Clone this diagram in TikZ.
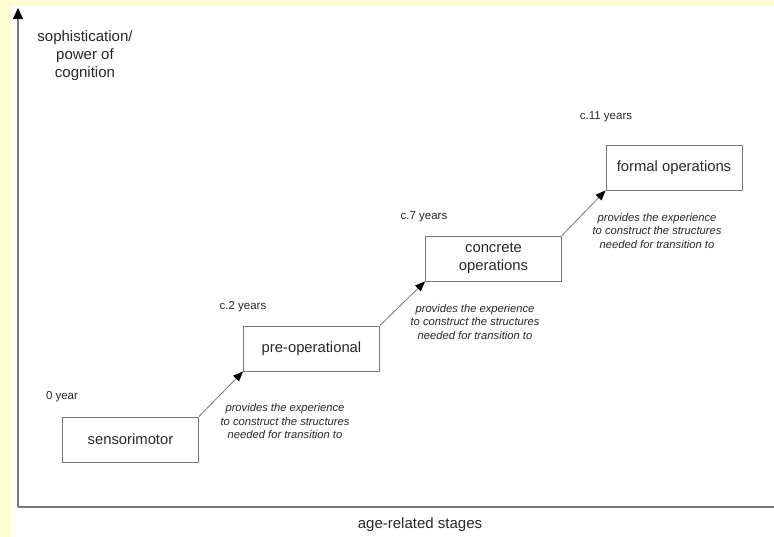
\documentclass[tikz,border=0pt]{standalone}
\usepackage{fontspec}
\setmainfont{Liberation Sans}
\usepackage{xcolor}
\usetikzlibrary{arrows.meta}
\definecolor{paleyellow}{RGB}{255,253,210}
\definecolor{linegray}{RGB}{120,120,120}
\definecolor{textgray}{RGB}{40,40,40}

\begin{document}
\begin{tikzpicture}[x=1pt,y=-1pt]
    % Styles for boxes, labels and lines
    \tikzset{
      box/.style={rectangle, draw=linegray, line width=0.9pt, align=center, text=textgray, minimum width=136pt, minimum height=45pt, inner sep=2pt, font=\fontsize{14.8}{18}\selectfont},
      age/.style={text=textgray, inner sep=0pt, font=\fontsize{11.5}{13}\selectfont},
      note/.style={text=textgray, align=center, inner sep=0pt, font=\fontsize{11.2}{13.5}\selectfont\itshape},
      axislabel/.style={text=textgray, align=center, inner sep=0pt, font=\fontsize{15}{18}\selectfont},
      arrow/.style={draw=linegray, line width=0.8pt, -{Triangle[length=10pt,width=8pt,color=black]}},
      axis/.style={draw=linegray, line width=1.3pt}
    }

    % Background
    \fill[paleyellow] (0,0) rectangle (774,537);
    \fill[white] (11,6) rectangle (774,537);
    \useasboundingbox (0,0) rectangle (774,537);

    % Axes
    \coordinate (origin) at (18,507);
    \coordinate (ytop) at (18,8);
    \coordinate (xend) at (774,507);
    \draw[axis] (origin) -- (xend);
    \draw[axis, -{Triangle[length=11pt,width=10pt,color=black]}] (origin) -- (ytop);
    \node[axislabel] (ylab) at (85,56) {sophistication/\\power of\\cognition};
    \node[axislabel] (xlab) at (420,525) {age-related stages};

    % Stage boxes with explicit coordinates
    \node[box] (sensori) at (130.5,439.5) {sensorimotor};
    \node[box] (preop) at (311.5,348.5) {pre-operational};
    \node[box] (concrete) at (493.5,258.5) {concrete\\operations};
    \node[box] (formal) at (674,167.5) {formal operations};

    % Ages
    \node[age] (age0) at (62,397) {0 year};
    \node[age] (age2) at (243,307) {c.2 years};
    \node[age] (age7) at (424,217) {c.7 years};
    \node[age] (age11) at (606,117) {c.11 years};

    % Transition notes
    \node[note] (note1) at (285,421) {provides the experience\\to construct the structures\\needed for transition to};
    \node[note] (note2) at (475,322) {provides the experience\\to construct the structures\\needed for transition to};
    \node[note] (note3) at (657,231) {provides the experience\\to construct the structures\\needed for transition to};

    % Arrows between stages
    \draw[arrow] (sensori.north east) -- (preop.south west);
    \draw[arrow] (preop.north east) -- (concrete.south west);
    \draw[arrow] (concrete.north east) -- (formal.south west);

\end{tikzpicture}
\end{document}
